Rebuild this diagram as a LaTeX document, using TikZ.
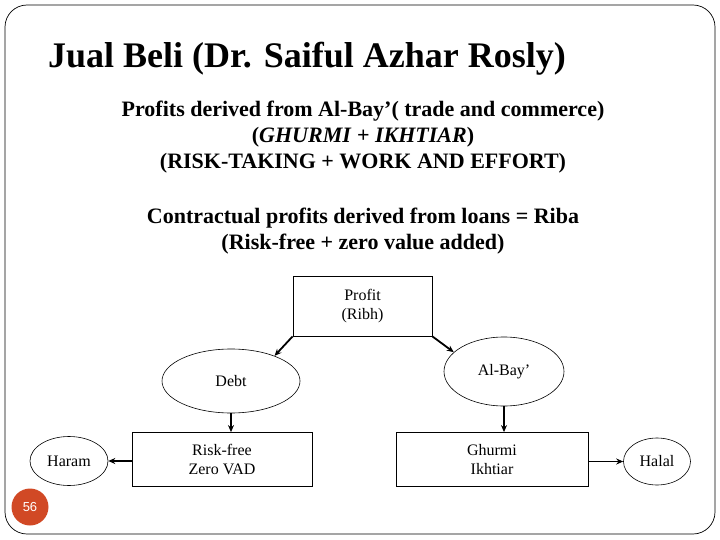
\documentclass[tikz,border=0pt]{standalone}
\usepackage{fontspec}
\setmainfont{Liberation Serif}
\setsansfont{Liberation Sans}
\usepackage{xcolor}
\definecolor{slideorange}{RGB}{209,73,37}
\usetikzlibrary{shapes,arrows,arrows.meta}
\usetikzlibrary{calc}

\begin{document}
\begin{tikzpicture}[x=1pt,y=-1pt,>={Stealth[length=7pt,width=6pt]},
    box/.style={draw, line width=0.8pt, align=center, inner sep=0pt, font=\fontsize{16}{19}\selectfont},
    oval/.style={draw, ellipse, line width=0.6pt, inner sep=0pt, font=\fontsize{16}{19}\selectfont},
    head/.style={font=\bfseries\fontsize{22}{26}\selectfont, anchor=base},
    link/.style={draw, ->, line width=1.8pt}]
        \useasboundingbox (0,0) rectangle (720,540);
        \draw[line width=0.7pt, rounded corners=22pt] (5,5) rectangle (715,534);

        \coordinate (title) at (48,68);
        \coordinate (profit) at (362.5,306);
        \coordinate (debt) at (231,381);
        \coordinate (albay) at (504,371.5);
        \coordinate (riskfree) at (222,459.5);
        \coordinate (ghurmi) at (492,459.5);
        \coordinate (haram) at (69,461);
        \coordinate (halal) at (657,461.5);

        % heading and the two text blocks
        \node[font=\bfseries\fontsize{36}{40}\selectfont, anchor=base west, inner sep=0pt] (Title) at (title) {Jual Beli (Dr. Saiful Azhar Rosly)};
        \node[head] (Bay1) at (363,117) {Profits derived from Al-Bay’( trade and commerce)};
        \node[head] (Bay2) at (363,143) {(\textit{GHURMI} + \textit{IKHTIAR})};
        \node[head] (Bay3) at (363,169) {(RISK-TAKING + WORK AND EFFORT)};
        \node[head] (Riba1) at (363,223) {Contractual profits derived from loans = Riba};
        \node[head] (Riba2) at (363,249) {(Risk-free + zero value added)};

        % the chart
        \node[box, minimum width=139pt, minimum height=60pt] (Profit) at (profit) {Profit\\(Ribh)};
        \node[oval, minimum width=138pt, minimum height=64pt] (Debt) at (debt) {Debt};
        \node[oval, minimum width=120pt, minimum height=69pt] (AlBay) at (albay) {Al-Bay’};
        \node[box, minimum width=180pt, minimum height=54pt] (RiskFree) at (riskfree) {Risk-free\\Zero VAD};
        \node[box, minimum width=192pt, minimum height=54pt] (Ghurmi) at (ghurmi) {Ghurmi\\Ikhtiar};
        \node[oval, minimum width=78pt, minimum height=49pt] (Haram) at (haram) {Haram};
        \node[oval, minimum width=67pt, minimum height=47pt] (Halal) at (halal) {Halal};

        \path[link] (Profit.south west) -- (Debt.30);
        \path[link] (Profit.south east) -- (AlBay.159);
        \path[link] (Debt.south) -- (Debt.south |- RiskFree.north);
        \path[link] (AlBay.south) -- (AlBay.south |- Ghurmi.north);
        \path[link] (RiskFree.west |- Haram.east) -- (Haram.east);
        \path[link] (Ghurmi.east |- Halal.west) -- (Halal.west);

        % page number
        \node[circle, fill=slideorange, minimum size=37pt, inner sep=0pt, text=white, font=\sffamily\fontsize{13}{15}\selectfont] (Page) at (30,507) {56};
    \end{tikzpicture}
\end{document}
